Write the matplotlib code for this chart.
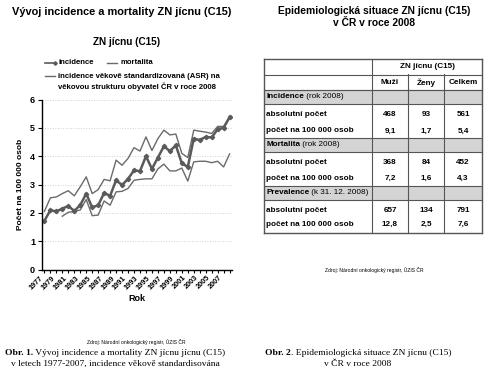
import numpy as np
import matplotlib
matplotlib.use('Agg')
import matplotlib.pyplot as plt
from matplotlib.lines import Line2D
from matplotlib.patches import Rectangle

plt.rcParams['font.family'] = ['Liberation Sans', 'DejaVu Sans']

# data
years = list(range(1977, 2009))
incidence = [1.72, 2.09, 2.05, 2.15, 2.24, 2.07, 2.27, 2.68, 2.19, 2.27,
             2.70, 2.60, 3.15, 2.98, 3.20, 3.50, 3.47, 4.00, 3.55, 3.95,
             4.35, 4.18, 4.38, 3.75, 3.62, 4.62, 4.57, 4.68, 4.66, 4.95,
             5.00, 5.38]
asr = [2.05, 2.53, 2.56, 2.68, 2.78, 2.60, 2.92, 3.27, 2.68, 2.82,
       3.18, 3.13, 3.86, 3.68, 3.92, 4.30, 4.18, 4.68, 4.20, 4.62,
       4.92, 4.75, 4.78, 4.10, 3.95, 4.92, 4.88, 4.85, 4.80, 5.05,
       5.05, 5.38]
mort_years = list(range(1980, 2009))
mortality = [1.88, 2.02, 2.05, 2.10, 2.47, 1.90, 1.92, 2.42, 2.27, 2.74,
             2.76, 2.86, 3.15, 3.18, 3.20, 3.20, 3.55, 3.72, 3.48, 3.48,
             3.58, 3.12, 3.80, 3.82, 3.82, 3.77, 3.82, 3.62, 4.08]

# table values
col_names = ['Muži', 'Ženy', 'Celkem']
sections = [('Incidence', ' (rok 2008)'), ('Mortalita', ' (rok 2008)'),
            ('Prevalence', ' (k 31. 12. 2008)')]
row_names = ['absolutní počet', 'počet na 100 000 osob']
incidence_tab = [['468', '93', '561'], ['9,1', '1,7', '5,4']]
mortality_tab = [['368', '84', '452'], ['7,2', '1,6', '4,3']]
prevalence_tab = [['657', '134', '791'], ['12,8', '2,5', '7,6']]

W, H = 490, 384
fig = plt.figure(figsize=(W / 100, H / 100), dpi=100)

# ---- left chart ----
ax = fig.add_axes([42 / W, 1 - 269.5 / H, 190 / W, 170 / H])
ax.plot(years, asr, color='#6a6a6a', lw=1.0)
ax.plot(mort_years, mortality, color='#6a6a6a', lw=1.0)
ax.plot(years, incidence, color='#5a5a5a', lw=1.8, marker='D', ms=2.2)
ax.set_xlim(1976.6, 2008.4)
ax.set_ylim(0, 6)
ax.set_xticks(years)
ax.set_xticklabels([str(y) if y % 2 == 1 else '' for y in years],
                   rotation=45, ha='right', fontsize=5.3, fontweight='bold')
ax.set_yticks(range(7))
ax.set_yticklabels([str(v) for v in range(7)], fontsize=6.5, fontweight='bold')
ax.tick_params(axis='x', length=2.5, width=0.8, pad=1)
ax.tick_params(axis='y', length=3, width=0.8, pad=2)
for v in range(1, 7):
    ax.axhline(v, color='#d0d0d0', lw=0.7, ls=':', zorder=0)
for s in ['top', 'right']:
    ax.spines[s].set_visible(False)
for s in ['left', 'bottom']:
    ax.spines[s].set_linewidth(1.0)
ax.set_ylabel('Počet na 100 000 osob', fontsize=6, fontweight='bold', labelpad=4)
ax.set_xlabel('Rok', fontsize=6.5, fontweight='bold', labelpad=2)

# overlay in pixel coordinates for texts and the table
ov = fig.add_axes([0, 0, 1, 1], facecolor='none')
ov.set_xlim(0, W)
ov.set_ylim(H, 0)
ov.axis('off')

ov.text(122, 12, 'Vývoj incidence a mortality ZN jícnu (C15)', ha='center',
        va='center', fontsize=7.9, fontweight='bold')
ov.text(127, 42, 'ZN jícnu (C15)', ha='center', va='center', fontsize=7.2,
        fontweight='bold')

# legend
ov.add_line(Line2D([45, 55], [63, 63], color='#5a5a5a', lw=1.2, marker='D',
                   ms=1.8, markevery=[1]))
ov.text(58, 63, 'incidence', va='center', fontsize=5.6, fontweight='bold')
ov.add_line(Line2D([107, 117], [63, 63], color='#6a6a6a', lw=1.0))
ov.text(120, 63, 'mortalita', va='center', fontsize=5.6, fontweight='bold')
ov.add_line(Line2D([45, 55], [76, 76], color='#6a6a6a', lw=1.0))
ov.text(58, 76, 'incidence věkově standardizovaná (ASR) na', va='center',
        fontsize=5.6, fontweight='bold')
ov.text(58, 87, 'věkovou strukturu obyvatel ČR v roce 2008', va='center',
        fontsize=5.6, fontweight='bold')

ov.text(136, 342, 'Zdroj: Národní onkologický registr, ÚZIS ČR', ha='center',
        va='center', fontsize=3.6)

# ---- right table ----
ov.text(374, 11, 'Epidemiologická situace ZN jícnu (C15)', ha='center',
        va='center', fontsize=7.4, fontweight='bold')
ov.text(374, 23, 'v ČR v roce 2008', ha='center', va='center', fontsize=7.4,
        fontweight='bold')

x0, x1 = 264, 482
col_edges = [264, 372, 408, 444, 482]
col_centers = [(col_edges[i + 1] + col_edges[i + 2]) / 2 for i in range(3)]
lc = '#555555'
fs = 5.9

for yy in [59, 75, 90, 233]:
    lw = 1.0 if yy in (59, 233) else 0.8
    ov.plot([x0, x1], [yy, yy], color=lc, lw=lw)
for xx in col_edges:
    ov.plot([xx, xx], [59, 233], color=lc, lw=1.0 if xx in (x0, x1) else 0.8)
# first header row spans the three numeric columns
ov.add_patch(Rectangle((405, 60), 42, 14, facecolor='white', edgecolor='none',
                       zorder=2.5))
ov.text(427, 67, 'ZN jícnu (C15)', ha='center', va='center', fontsize=fs,
        fontweight='bold', zorder=3)
for cx, name in zip(col_centers, col_names):
    ov.text(cx, 83, name, ha='center', va='center', fontsize=fs,
            fontweight='bold')

gray_rows = [(90, 104), (138, 152), (186, 200)]
row_ys = [(115, 131), (163, 178), (210, 224)]
tables = [incidence_tab, mortality_tab, prevalence_tab]
heads = []
for (g0, g1), (bold, normal), ys, tab in zip(gray_rows, sections, row_ys, tables):
    ov.add_patch(Rectangle((x0, g0), x1 - x0, g1 - g0, facecolor='#d4d4d4',
                           edgecolor='none', zorder=0))
    ov.plot([x0, x1], [g0, g0], color=lc, lw=0.8)
    ov.plot([x0, x1], [g1, g1], color=lc, lw=0.8)
    t = ov.text(266, (g0 + g1) / 2, bold, va='center', fontsize=fs,
                fontweight='bold')
    heads.append((t, normal, (g0 + g1) / 2))
    for yy, name, vals in zip(ys, row_names, tab):
        ov.text(266, yy, name, va='center', fontsize=fs, fontweight='bold')
        for cx, v in zip(col_centers, vals):
            ov.text(cx, yy, v, ha='center', va='center', fontsize=fs,
                    fontweight='bold')

ov.text(374, 270, 'Zdroj: Národní onkologický registr, ÚZIS ČR', ha='center',
        va='center', fontsize=3.6)

# captions: bold "Obr. n." followed by normal text, centred as a whole
serif = ['Liberation Serif', 'DejaVu Serif']
cfs = 6.8
captions = [(115, 'Obr. 1.', ' Vývoj incidence a mortality ZN jícnu jícnu (C15)',
             'v letech 1977-2007, incidence věkově standardisována'),
            (358, 'Obr. 2', '. Epidemiologická situace ZN jícnu (C15)',
             'v ČR v roce 2008')]
fig.canvas.draw()
r = fig.canvas.get_renderer()
inv = ov.transData.inverted()


def px_width(t):
    bb = t.get_window_extent(renderer=r)
    return bb.width


for t, normal, yy in heads:
    bb = t.get_window_extent(renderer=r)
    xe = inv.transform((bb.x1, bb.y0))[0]
    ov.text(xe, yy, normal, va='center', fontsize=fs)

for cx, bold, rest, line2 in captions:
    tb = ov.text(0, 353, bold, va='center', fontsize=cfs, family=serif,
                 fontweight='bold')
    tr = ov.text(0, 353, rest, va='center', fontsize=cfs, family=serif)
    wb, wr = px_width(tb), px_width(tr)
    start = cx - (wb + wr) / 2
    tb.set_x(start)
    tr.set_x(start + wb)
    ov.text(cx, 363.5, line2, ha='center', va='center', fontsize=cfs,
            family=serif)

fig.savefig('out.png', dpi=100)
